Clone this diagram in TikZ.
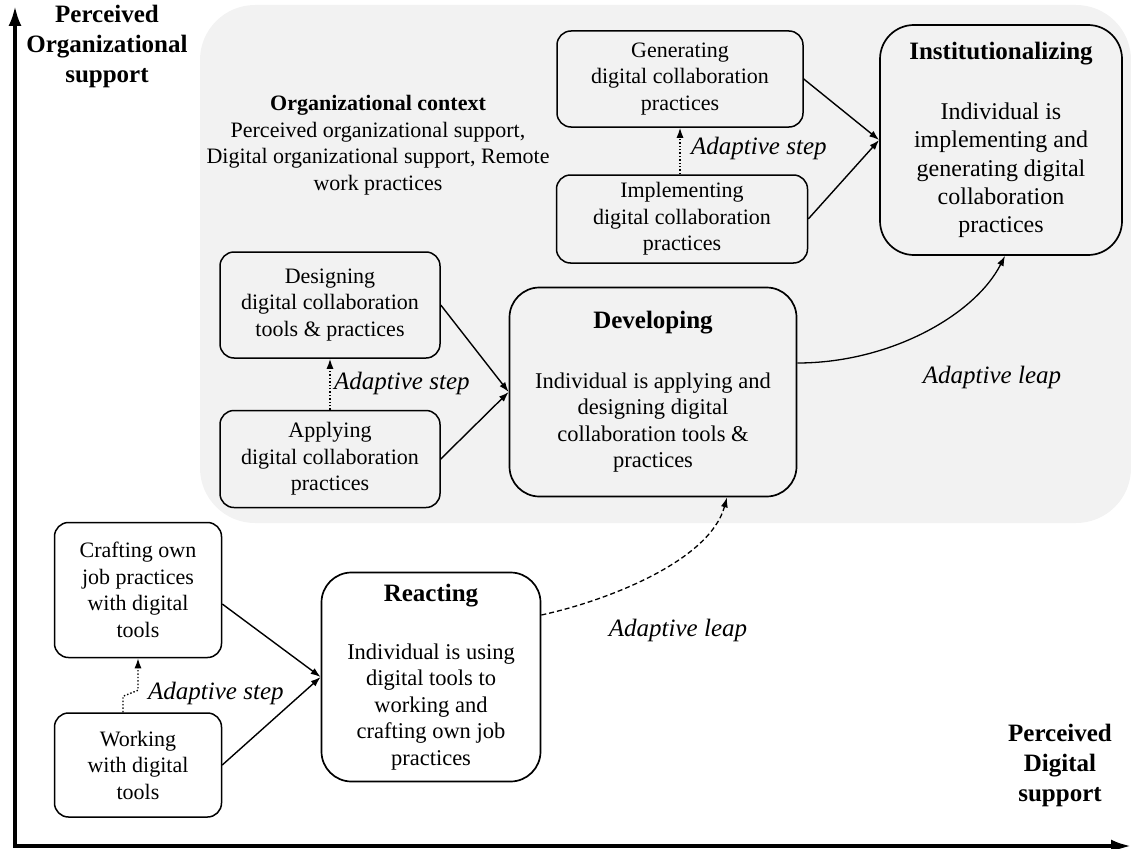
\documentclass[tikz,border=0pt]{standalone}
\usepackage{fontspec}
\setmainfont{Liberation Serif}
\usetikzlibrary{arrows.meta,positioning}
\definecolor{ctxgray}{HTML}{F2F2F2}

\begin{document}
\begin{tikzpicture}[x=1pt,y=-1pt,
  sbox/.style={draw,line width=1.5pt,rounded corners=14pt,align=center,
               font=\fontsize{22}{26.5}\selectfont,inner sep=2pt},
  stage/.style={draw,line width=1.7pt,rounded corners=30pt,align=center,
               font=\fontsize{22.5}{26.5}\selectfont,inner sep=2pt},
  lbl/.style={font=\fontsize{25}{30}\selectfont\itshape,inner sep=1pt},
  axlbl/.style={font=\fontsize{25}{30}\selectfont\bfseries,align=center},
  arr/.style={-{Latex[length=10pt,width=7pt]},line width=1.4pt},
  steparr/.style={arr,dotted},
  leaparr/.style={-{Latex[length=10pt,width=7pt]},line width=1.3pt},
  axis/.style={{Latex[length=20pt,width=13pt]}-{Latex[length=20pt,width=13pt]},line width=3.5pt}]
  \useasboundingbox (0,0) rectangle (1131,848);
  % ---- organizational context (background)
  \fill[ctxgray,rounded corners=55pt] (200,5) rectangle (1131,523);
  \node[align=center,font=\fontsize{22}{26.5}\selectfont] (ctx) at (378,145)
       {\textbf{Organizational context}\\Perceived organizational support,\\Digital organizational support, Remote\\work practices};
  % ---- axes
  \coordinate (orig) at (15,846);
  \coordinate (ytop) at (15,6);
  \coordinate (xend) at (1131,846);
  \draw[axis] (ytop) -- (orig) -- (xend);
  \node[axlbl] (ylab) at (107,46) {Perceived\\Organizational\\support};
  \node[axlbl] (xlab) at (1060,765) {Perceived\\Digital\\support};
  % ---- institutionalizing stage
  \node[sbox,minimum width=246pt,minimum height=96pt] (gen) at (680,79)
       {Generating\\digital collaboration\\practices};
  \node[sbox,minimum width=251pt,minimum height=88pt] (impl) at (682,219)
       {Implementing\\digital collaboration\\practices};
  \node[stage,minimum width=242pt,minimum height=230pt,rounded corners=34pt,
        font=\fontsize{24}{28.3}\selectfont] (inst) at (1001,140)
       {{\fontsize{25}{30}\selectfont\bfseries Institutionalizing}\\[32pt]Individual is\\implementing and\\generating digital\\collaboration\\practices};
  % ---- developing stage
  \node[sbox,minimum width=220pt,minimum height=106pt] (des) at (330,305)
       {Designing\\digital collaboration\\tools \& practices};
  \node[sbox,minimum width=220pt,minimum height=97pt] (app) at (330,459)
       {Applying\\digital collaboration\\practices};
  \node[stage,minimum width=287pt,minimum height=209pt] (dev) at (653,392)
       {{\fontsize{25}{30}\selectfont\bfseries Developing}\\[33pt]Individual is applying and\\designing digital\\collaboration tools \&\\practices};
  % ---- reacting stage
  \node[sbox,minimum width=167pt,minimum height=135pt] (craft) at (138,590)
       {Crafting own\\job practices\\with digital\\tools};
  \node[sbox,minimum width=167pt,minimum height=104pt] (work) at (138,765)
       {Working\\with digital\\tools};
  \node[stage,minimum width=219pt,minimum height=209pt] (react) at (431,677)
       {{\fontsize{25}{30}\selectfont\bfseries Reacting}\\[31pt]Individual is using\\digital tools to\\working and\\crafting own job\\practices};
  % ---- adaptive steps
  \draw[steparr] (impl.north -| gen.south) -- (gen.south);
  \draw[steparr] (app.north) -- (des.south);
  \draw[steparr] ([xshift=-15pt]work.north) -- ++(0,-16) -- ([yshift=-32pt]craft.south) -- (craft.south);
  \node[lbl,anchor=west] (stepI) at (690,148) {Adaptive step};
  \node[lbl,anchor=west] (stepD) at (333,383) {Adaptive step};
  \node[lbl,anchor=west] (stepR) at (147,693) {Adaptive step};
  % ---- into the stages
  \draw[arr] (gen.east) -- (inst.west);
  \draw[arr] (impl.east) -- (inst.west);
  \draw[arr] (des.east) -- (dev.west);
  \draw[arr] (app.east) -- (dev.west);
  \draw[arr] ([yshift=-14pt]craft.east) -- (react.west);
  \draw[arr] (work.east) -- (react.west);
  % ---- adaptive leaps
  \draw[leaparr,dashed,dash pattern=on 5pt off 3pt] ([yshift=62pt]react.east)
       .. controls (610,600) and (710,560) .. ([xshift=74pt]dev.south);
  \draw[leaparr] ([yshift=29pt]dev.east)
       .. controls (890,363) and (975,315) .. ([xshift=4pt]inst.south);
  \node[lbl] (leapR) at (678,630) {Adaptive leap};
  \node[lbl] (leapD) at (992,377) {Adaptive leap};
\end{tikzpicture}
\end{document}
